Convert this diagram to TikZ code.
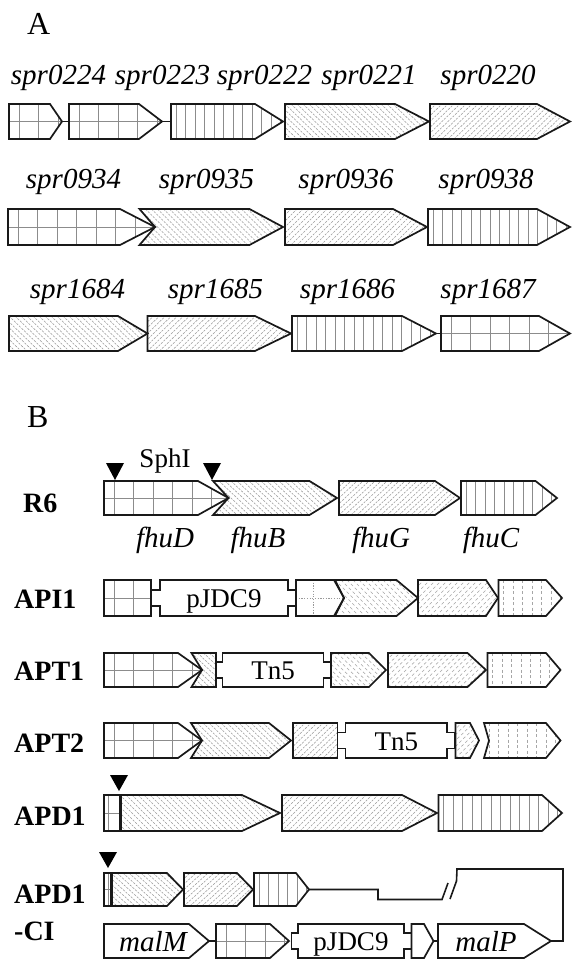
\documentclass[tikz,border=0pt]{standalone}
\usepackage{fontspec}
\setmainfont{Liberation Serif}
\tikzset{
 gline/.style={draw=black!90, line width=1.7pt, line join=miter},
 pat/.style={draw=black!45, line width=0.6pt},
 hat/.style={draw=black!40, line width=0.55pt, dash pattern=on 2.2pt off 1.3pt},
 fnt/.style={draw=black!35, line width=0.55pt, dash pattern=on 3pt off 2.5pt},
 fdot/.style={draw=black!40, line width=0.6pt, dash pattern=on 1.2pt off 1.5pt},
 lab/.style={anchor=base, inner sep=0pt, font=\fontsize{29}{31}\selectfont\itshape},
 rlab/.style={anchor=base west, inner sep=0pt, font=\fontsize{28}{30}\selectfont\bfseries},
 ins/.style={anchor=base, inner sep=0pt, font=\fontsize{27}{29}\selectfont},
 panel/.style={anchor=base west, inner sep=0pt, font=\fontsize{32}{34}\selectfont},
 conn/.style={draw=black!90, line width=1.6pt, line join=miter},
 thickdiv/.style={draw=black!90, line width=3pt},
}
\newcommand\setrow[2]{\def\gyt{#1}\def\gyb{#2}\pgfmathsetmacro\gyc{(#1+#2)/2}}
\newcommand\gene[6]{%
 \begin{scope}
 \clip (#1,\gyt) -- (#3,\gyt) -- (#4,\gyc) -- (#3,\gyb) -- (#1,\gyb) -- ({#1+#2},\gyc) -- cycle;
 #5{#1}{#4}{#6}
 \end{scope}
 \draw[gline] (#1,\gyt) -- (#3,\gyt) -- (#4,\gyc) -- (#3,\gyb) -- (#1,\gyb) -- ({#1+#2},\gyc) -- cycle;}
\newcommand\Pgrid[3]{\foreach \k in {0,...,12}{\draw[#3] ({#1+10+\k*19.5},\gyt) -- ({#1+10+\k*19.5},\gyb);}\draw[#3] (#1,\gyc) -- (#2,\gyc);}
\newcommand\Pvl[3]{\foreach \k in {0,...,24}{\draw[#3] ({#1+5+\k*9.5},\gyt) -- ({#1+5+\k*9.5},\gyb);}}
\newcommand\PhA[3]{\foreach \k in {-7,...,42}{\draw[#3] ({#1+\k*6},\gyt) -- ({#1+\k*6+36},\gyb);}}
\newcommand\PhB[3]{\foreach \k in {-7,...,42}{\draw[#3] ({#1+\k*6},\gyb) -- ({#1+\k*6+36},\gyt);}}
\newcommand\Pnone[3]{}
\newcommand\Pdot[3]{\draw[#3] ({#1+17},\gyt) -- ({#1+17},\gyb); \draw[#3] (#1,\gyc) -- (#2,\gyc);}
\newcommand\Pthin[3]{\draw[#3] ({#1+4},\gyt) -- ({#1+4},\gyb); \draw[#3] (#1,\gyc) -- (#2,\gyc);}
\newcommand\gins[6]{%
 \draw[gline] (#2,\gyt) -- (#3,\gyt) -- (#3,{\gyc-8}) -- (#4,{\gyc-8}) -- (#4,{\gyc+8}) -- (#3,{\gyc+8}) -- (#3,\gyb) -- (#2,\gyb) -- (#2,{\gyc+8}) -- (#1,{\gyc+8}) -- (#1,{\gyc-8}) -- (#2,{\gyc-8}) -- cycle;
 \node[ins] (#5) at ({(#2+#3)/2},{\gyc+9.5}) {#6};}
\newcommand\tri[3]{\fill[black] ({#1-9},#2) -- ({#1+9},#2) -- (#1,#3) -- cycle;}
\begin{document}
\begin{tikzpicture}[x=1pt,y=-1pt]
\useasboundingbox[fill=white] (0,0) rectangle (571,960);
% ---------- Panel A
\node[panel] (pA) at (27,35) {A};
% row A1
\setrow{104}{139}
\gene{9}{0}{50}{62}{\Pgrid}{pat}
\gene{69}{0}{139}{162}{\Pgrid}{pat}
\gene{171}{0}{255}{283}{\Pvl}{pat}
\gene{285}{0}{395}{429}{\PhA}{hat}
\gene{430}{0}{537}{570}{\PhB}{hat}
\coordinate (a1t) at (62,\gyc); \coordinate (a2l) at (69,\gyc);
\coordinate (a2t) at (162,\gyc); \coordinate (a3l) at (171,\gyc);
\draw[conn] (a1t) -- (a2l);
\draw[conn] (a2t) -- (a3l);
\node[lab] (s0224) at (58.5,85) {spr0224};
\node[lab] (s0223) at (162.5,85) {spr0223};
\node[lab] (s0222) at (264.5,85) {spr0222};
\node[lab] (s0221) at (369,85) {spr0221};
\node[lab] (s0220) at (488,85) {spr0220};
% row A2
\setrow{209}{245}
\gene{8}{0}{120}{155}{\Pgrid}{pat}
\gene{139.5}{15.5}{249.5}{283}{\PhA}{hat}
\gene{285}{0}{393}{427}{\PhB}{hat}
\gene{428}{0}{537}{570}{\Pvl}{pat}
\node[lab] (s0934) at (73.5,188) {spr0934};
\node[lab] (s0935) at (206.5,188) {spr0935};
\node[lab] (s0936) at (346,188) {spr0936};
\node[lab] (s0938) at (486,188) {spr0938};
% row A3
\setrow{316}{351}
\gene{9}{0}{118}{147.5}{\PhA}{hat}
\gene{147.5}{0}{255}{291}{\PhB}{hat}
\gene{292}{0}{402}{436}{\Pvl}{pat}
\gene{441}{0}{539}{570}{\Pgrid}{pat}
\coordinate (a6t) at (436,\gyc); \coordinate (a7l) at (441,\gyc);
\draw[conn] (a6t) -- (a7l);
\node[lab] (s1684) at (77.5,298) {spr1684};
\node[lab] (s1685) at (215.5,298) {spr1685};
\node[lab] (s1686) at (347.5,298) {spr1686};
\node[lab] (s1687) at (488,298) {spr1687};
% ---------- Panel B
\node[panel] (pB) at (27,427) {B};
% R6
\setrow{481}{515}
\gene{104}{0}{198}{228.5}{\Pgrid}{pat}
\gene{213}{15.5}{309.5}{337}{\PhA}{hat}
\gene{339}{0}{435}{460}{\PhB}{hat}
\gene{461}{0}{535.5}{557}{\Pvl}{pat}
\tri{115}{463}{480}
\tri{212}{463}{480}
\node[ins] (sph) at (165,467) {SphI};
\node[rlab] (lR6) at (23,512) {R6};
\node[lab] (fD) at (165,547) {fhuD};
\node[lab] (fB) at (258,547) {fhuB};
\node[lab] (fG) at (381,547) {fhuG};
\node[lab] (fC) at (491,547) {fhuC};
% API1
\setrow{580}{616}
\gene{104}{0}{151}{151}{\Pgrid}{pat}
\gins{151}{160}{288}{296}{pj1}{pJDC9}
\gene{296}{0}{334}{344}{\Pdot}{fdot}
\gene{335}{9}{396.5}{418}{\PhA}{fnt}
\gene{418}{0}{486}{498}{\PhB}{fnt}
\gene{498.5}{0}{546}{562}{\Pvl}{fnt}
\node[rlab] (lAPI1) at (14,608) {API1};
% APT1
\setrow{653}{687}
\gene{104}{0}{178}{202}{\Pgrid}{pat}
\gene{191.5}{10.5}{216}{216}{\PhA}{hat}
\gins{216}{222.5}{323.5}{331}{tn1}{Tn5}
\gene{331}{0}{369}{386}{\PhA}{fnt}
\gene{388}{0}{467.5}{486}{\PhB}{fnt}
\gene{487.5}{0}{546}{560.5}{\Pvl}{fnt}
\node[rlab] (lAPT1) at (14,680) {APT1};
% APT2
\setrow{723}{758}
\gene{104}{0}{178}{202}{\Pgrid}{pat}
\gene{191}{11}{269}{291}{\PhA}{hat}
\gene{293}{0}{337.5}{337.5}{\PhB}{hat}
\gins{337.5}{345.5}{447}{455}{tn2}{Tn5}
\gene{455.5}{0}{470}{479}{\PhB}{fnt}
\gene{484}{5}{546}{560.5}{\Pvl}{fnt}
\node[rlab] (lAPT2) at (14,752) {APT2};
% APD1
\setrow{795}{831}
\gene{104}{0}{120}{120}{\Pthin}{pat}
\gene{120}{0}{242}{280}{\PhA}{hat}
\gene{282}{0}{402}{437}{\PhB}{hat}
\gene{438.5}{0}{542}{562}{\Pvl}{pat}
\draw[thickdiv] (120,\gyt) -- (120,\gyb);
\tri{119}{775}{791}
\node[rlab] (lAPD1) at (14,825) {APD1};
% APD1-CI upper
\setrow{873}{906}
\gene{104}{0}{111}{111}{\Pthin}{pat}
\gene{111}{0}{167}{183}{\PhA}{hat}
\gene{184}{0}{237}{253}{\PhB}{hat}
\gene{254}{0}{296}{309}{\Pvl}{pat}
\draw[thickdiv] (111,\gyt) -- (111,\gyb);
\tri{108}{852}{868}
\coordinate (cut) at (309,\gyc);
\node[rlab] (lCI1) at (14,903) {APD1};
\node[rlab] (lCI2) at (14,940) {-CI};
% APD1-CI lower
\setrow{924}{958}
\gene{104}{0}{189}{209}{\Pnone}{pat}
\gene{216}{0}{270}{289}{\Pgrid}{pat}
\gins{291.5}{298}{404}{411.5}{pj2}{pJDC9}
\gene{411.5}{0}{424}{433.5}{\Pnone}{pat}
\gene{438}{0}{524}{551}{\Pnone}{pat}
\node[lab] (malM) at (153,951) {malM};
\node[lab] (malP) at (486,951) {malP};
\coordinate (mMt) at (209,\gyc); \coordinate (grl) at (216,\gyc);
\coordinate (smt) at (433.5,\gyc); \coordinate (mPl) at (438,\gyc);
\coordinate (mPt) at (551,\gyc);
\draw[conn] (mMt) -- (grl);
\draw[conn] (smt) -- (mPl);
\draw[conn] (cut) -- (378,889.5) -- (378,899.5) -- (442,899.5) -- (448,883);
\draw[conn] (450,899) -- (456.5,881) -- (457,869) -- (563,869) -- (563,941) -- (mPt);
\end{tikzpicture}
\end{document}
